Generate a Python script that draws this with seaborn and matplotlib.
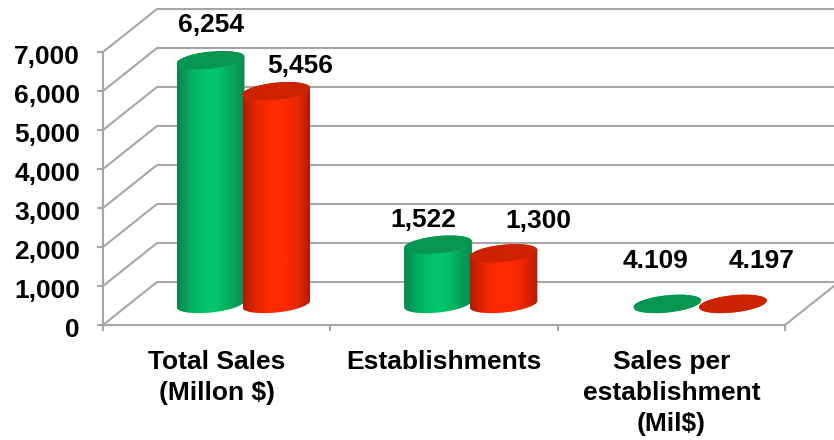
#!/usr/bin/env python3
# -*- coding: utf-8 -*-

import numpy as np
import pandas as pd
import matplotlib
matplotlib.use('Agg')
import matplotlib.pyplot as plt
import seaborn as sns
from matplotlib.colors import LinearSegmentedColormap
from matplotlib.patches import Polygon
from matplotlib.transforms import ScaledTranslation

# -------------------------------------------------
# data
# -------------------------------------------------

CATEGORIES = ['Total Sales\n(Millon $)', 'Establishments', 'Sales per\nestablishment\n(Mil$)']
SERIES_NAMES = ['Green', 'Red']
GREEN_VALUES = [6254, 1522, 4.109]
RED_VALUES = [5456, 1300, 4.197]
GREEN_LABELS = ['6,254', '1,522', '4.109']
RED_LABELS = ['5,456', '1,300', '4.197']
Y_TICKS = [0, 1000, 2000, 3000, 4000, 5000, 6000, 7000]
Y_TICK_LABELS = ['0', '1,000', '2,000', '3,000', '4,000', '5,000', '6,000', '7,000']

# -------------------------------------------------
# style
# -------------------------------------------------

FIG_W, FIG_H = 834, 440
AX_LEFT, AX_RIGHT, AX_TOP, AX_BOTTOM = 103, 785, 52, 325
DEPTH_X, DEPTH_Y = 54, 43        # px from front plane to back wall
GRID = '#a6a6a6'
SIDE_COLORS = [
    ['#0a8549', '#03ad60', '#00c46c', '#00c46c', '#04a85c', '#0a8a4e'],
    ['#b01c00', '#e82600', '#ff2a00', '#ff2a00', '#e82600', '#b01c00'],
]
TOP_COLORS = ['#07964f', '#cc2200']
# label offset from the top of each bar, px
LABEL_OFFSETS = [
    [(0, 35), (-15, 25), (-12, 43)],
    [(24, 25), (35, 32), (29, 43)],
]
# nudge per series so the red cylinder overlaps the green one, px
SERIES_NUDGE = [0.5, -1.0]
# the last pair sits a little further right
CATEGORY_NUDGE = [0, 0, 2]
ELLIPSE_A, ELLIPSE_B, TILT = 34, 8.5, np.radians(6)
FONT_SIZE = 19

sns.set_theme(style='white')
plt.rcParams['font.family'] = ['Liberation Sans', 'DejaVu Sans']
plt.rcParams['font.weight'] = 'bold'

fig = plt.figure(figsize=(FIG_W / 100, FIG_H / 100), dpi=100)
ax = fig.add_axes([
    AX_LEFT / FIG_W,
    1 - AX_BOTTOM / FIG_H,
    (AX_RIGHT - AX_LEFT) / FIG_W,
    (AX_BOTTOM - AX_TOP) / FIG_H,
])

df = pd.DataFrame({
    'category': CATEGORIES * 2,
    'series': [SERIES_NAMES[0]] * 3 + [SERIES_NAMES[1]] * 3,
    'value': GREEN_VALUES + RED_VALUES,
})

sns.barplot(
    data=df,
    x='category',
    y='value',
    hue='series',
    palette=dict(zip(SERIES_NAMES, ['#00c46c', '#ff2a00'])),
    width=0.59,
    legend=False,
    zorder=3,
    ax=ax,
)

XLIM = (-0.5, 2.5)
YLIM = (0, Y_TICKS[-1])
ax.set_xlim(XLIM)
ax.set_ylim(YLIM)

# px -> data scale
px_x = (XLIM[1] - XLIM[0]) / (AX_RIGHT - AX_LEFT)
px_y = (YLIM[1] - YLIM[0]) / (AX_BOTTOM - AX_TOP)

# -------------------------------------------------
# walls and floor
# -------------------------------------------------

back_x = XLIM[0] + DEPTH_X * px_x
end_x = XLIM[0] + (FIG_W - AX_LEFT) * px_x
for t in Y_TICKS:
    back_y = t + DEPTH_Y * px_y
    ax.plot([XLIM[0], back_x, end_x], [t, back_y, back_y],
            color=GRID, lw=1.5, clip_on=False, zorder=1, solid_joinstyle='miter')

ax.plot([XLIM[1], XLIM[1] + (FIG_W - AX_RIGHT) * px_x],
        [0, (FIG_W - AX_RIGHT) * DEPTH_Y / DEPTH_X * px_y],
        color=GRID, lw=1.5, clip_on=False, zorder=1)


# -------------------------------------------------
# cylinders, built from the seaborn bars
# -------------------------------------------------

def ellipse_points(cx, cy, start, stop, n=60):
    t = np.linspace(start, stop, n)
    ex = ELLIPSE_A * np.cos(t) * np.cos(TILT) - ELLIPSE_B * np.sin(t) * np.sin(TILT)
    ey = ELLIPSE_A * np.cos(t) * np.sin(TILT) + ELLIPSE_B * np.sin(t) * np.cos(TILT)
    return np.column_stack([cx + ex * px_x, cy + ey * px_y])


shift_x = DEPTH_X / 2 * px_x
shift_y = 21 * px_y
all_labels = [GREEN_LABELS, RED_LABELS]

for s, container in enumerate(ax.containers):
    cmap = LinearSegmentedColormap.from_list(f'side{s}', SIDE_COLORS[s])
    for c, bar in enumerate(container.patches):
        bar.set_x(bar.get_x() + shift_x + (SERIES_NUDGE[s] + CATEGORY_NUDGE[c]) * px_x)
        bar.set_y(shift_y)
        bar.set_linewidth(0)

        cx = bar.get_x() + bar.get_width() / 2
        bottom = bar.get_y()
        top = bottom + bar.get_height()

        # body = lower half of the base ellipse + upper half of the top ellipse
        lower = ellipse_points(cx, bottom, np.pi, 2 * np.pi)
        upper = ellipse_points(cx, top, 0, np.pi)
        body = Polygon(np.vstack([lower, upper]), closed=True,
                       transform=ax.transData, facecolor='none', edgecolor='none')
        ax.add_patch(body)
        bar.set_clip_path(body)

        half = bar.get_width() / 2
        img = ax.imshow(
            np.linspace(0, 1, 128).reshape(1, -1),
            cmap=cmap,
            aspect='auto',
            extent=(cx - half, cx + half, bottom - 20 * px_y, top + 20 * px_y),
            zorder=3.5 + s,
            clip_on=True,
        )
        img.set_clip_path(body)

        ax.add_patch(Polygon(
            ellipse_points(cx, top, 0, 2 * np.pi, 120),
            closed=True,
            facecolor=TOP_COLORS[s],
            edgecolor='none',
            zorder=3.6 + s,
            clip_on=False,
        ))

        off = LABEL_OFFSETS[s][c]
        ax.annotate(
            all_labels[s][c],
            xy=(cx, top),
            xytext=(off[0] * 0.72, off[1] * 0.72),
            textcoords='offset points',
            ha='center',
            va='center',
            fontsize=FONT_SIZE,
            fontweight='bold',
            color='black',
            annotation_clip=False,
            zorder=6,
        )

ax.set_xlim(XLIM)
ax.set_ylim(YLIM)

# -------------------------------------------------
# axes
# -------------------------------------------------

ax.set_xlabel('')
ax.set_ylabel('')
ax.set_yticks(Y_TICKS)
ax.set_yticklabels(Y_TICK_LABELS)
ax.set_xticks([0, 1, 2])
ax.set_xticklabels(CATEGORIES, linespacing=1.38)
ax.set_xticks([-0.5, 0.5, 1.5, 2.5], minor=True)

ax.tick_params(axis='y', length=4, width=1.5, color=GRID, pad=12.5, labelsize=FONT_SIZE,
               labelcolor='black', left=True)
ax.tick_params(axis='x', which='major', length=0, pad=18, labelsize=FONT_SIZE, labelcolor='black')
ax.tick_params(axis='x', which='minor', length=4, width=1.5, color=GRID, bottom=True)

# the y labels sit a little under their ticks
label_shift = ScaledTranslation(0, -2.5 / 100, fig.dpi_scale_trans)
for label in ax.get_yticklabels():
    label.set_transform(label.get_transform() + label_shift)

for name in ['top', 'right']:
    ax.spines[name].set_visible(False)
for name in ['left', 'bottom']:
    ax.spines[name].set_color(GRID)
    ax.spines[name].set_linewidth(1.5)
ax.set_facecolor('none')
ax.set_axisbelow(False)

fig.savefig('out.png', dpi=100, facecolor='white')
